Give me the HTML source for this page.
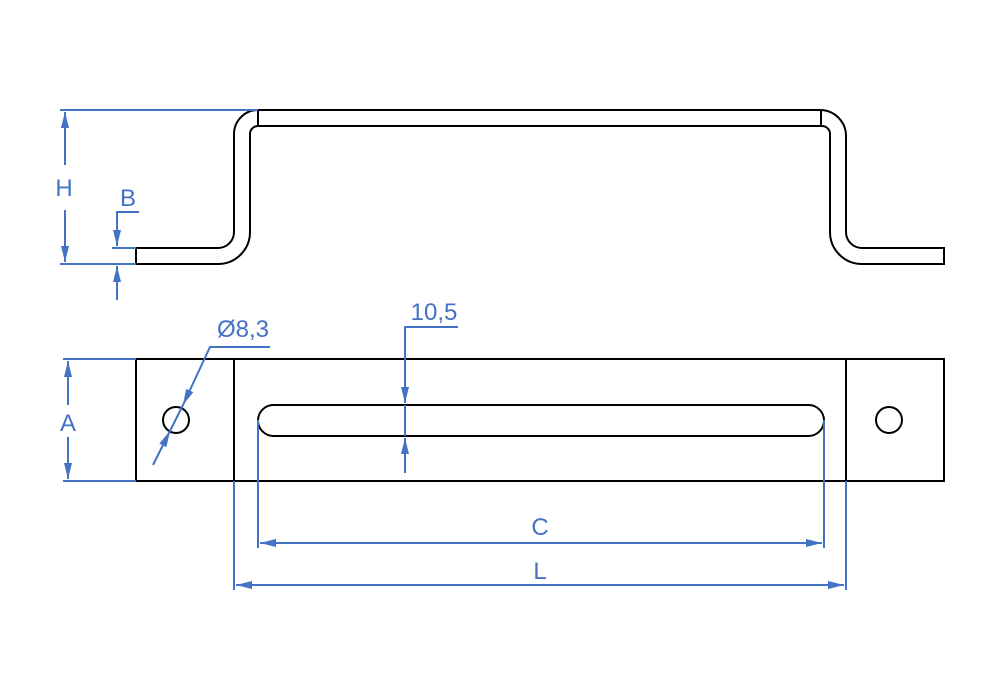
<!DOCTYPE html>
<html><head><meta charset="utf-8"><style>
html,body{margin:0;padding:0;background:#fff;width:1000px;height:700px;overflow:hidden}
text{font-family:"Liberation Sans",sans-serif;fill:#4472c4}
</style></head><body>
<svg width="1000" height="700" viewBox="0 0 1000 700" xmlns="http://www.w3.org/2000/svg">
<defs>
<marker id="a" viewBox="0 0 16 8" refX="16" refY="4" markerWidth="16" markerHeight="8" markerUnits="userSpaceOnUse" orient="auto"><path d="M0,0 L16,4 L0,8 Z" fill="#4472c4"/></marker>
</defs>
<g fill="none" stroke="#000" stroke-width="2">
<path d="M136,248 L218,248 A16,16 0 0 0 234,232 L234,134 A24,24 0 0 1 258,110 L820,110 A26,26 0 0 1 846,136 L846,232 A16,16 0 0 0 862,248 L944,248 L944,264 L862,264 A32,32 0 0 1 830,232 L830,134 A8,8 0 0 0 822,126 L258,126 A8,8 0 0 0 250,134 L250,232 A32,32 0 0 1 218,264 L136,264 Z"/>
<line x1="258" y1="110" x2="258" y2="126"/>
<line x1="821" y1="110" x2="821" y2="126"/>
<rect x="136" y="359" width="808" height="122"/>
<line x1="234" y1="359" x2="234" y2="481"/>
<line x1="846" y1="359" x2="846" y2="481"/>
<circle cx="176" cy="420" r="13"/>
<circle cx="889" cy="420" r="13"/>
<rect x="258" y="405" width="566" height="31" rx="15.5"/>
</g>
<g fill="none" stroke="#4472c4" stroke-width="2">
<line x1="60" y1="110" x2="258" y2="110"/>
<line x1="60" y1="264" x2="136" y2="264"/>
<line x1="65" y1="165" x2="65" y2="112" marker-end="url(#a)"/>
<line x1="65" y1="210" x2="65" y2="262" marker-end="url(#a)"/>
<polyline points="139,212 117,212 117,246" marker-end="url(#a)"/>
<line x1="112" y1="248" x2="136" y2="248"/>
<line x1="117" y1="300" x2="117" y2="266" marker-end="url(#a)"/>
<line x1="63" y1="359" x2="136" y2="359"/>
<line x1="63" y1="481" x2="136" y2="481"/>
<line x1="68" y1="405" x2="68" y2="361" marker-end="url(#a)"/>
<line x1="68" y1="437" x2="68" y2="479" marker-end="url(#a)"/>
<polyline points="270,347 210,347 183,405" marker-end="url(#a)"/>
<line x1="153" y1="465" x2="170" y2="431" marker-end="url(#a)"/>
<line x1="183" y1="405" x2="170" y2="431"/>
<polyline points="458,327 405,327 405,403" marker-end="url(#a)"/>
<line x1="405" y1="473" x2="405" y2="438" marker-end="url(#a)"/>
<line x1="405" y1="405" x2="405" y2="436"/>
<line x1="258" y1="420" x2="258" y2="548"/>
<line x1="824" y1="420" x2="824" y2="548"/>
<line x1="541" y1="543" x2="260" y2="543" marker-end="url(#a)"/>
<line x1="541" y1="543" x2="822" y2="543" marker-end="url(#a)"/>
<line x1="234" y1="481" x2="234" y2="590"/>
<line x1="846" y1="481" x2="846" y2="590"/>
<line x1="540" y1="585" x2="236" y2="585" marker-end="url(#a)"/>
<line x1="540" y1="585" x2="844" y2="585" marker-end="url(#a)"/>
</g>
<text x="64" y="196" font-size="24" text-anchor="middle">H</text>
<text x="128" y="206" font-size="24" text-anchor="middle">B</text>
<text x="68" y="431" font-size="24" text-anchor="middle">A</text>
<text x="243" y="337" font-size="24" text-anchor="middle">Ø8,3</text>
<text x="434" y="320" font-size="24" text-anchor="middle">10,5</text>
<text x="540" y="535" font-size="24" text-anchor="middle">C</text>
<text x="540" y="579" font-size="24" text-anchor="middle">L</text>
</svg>
</body></html>
